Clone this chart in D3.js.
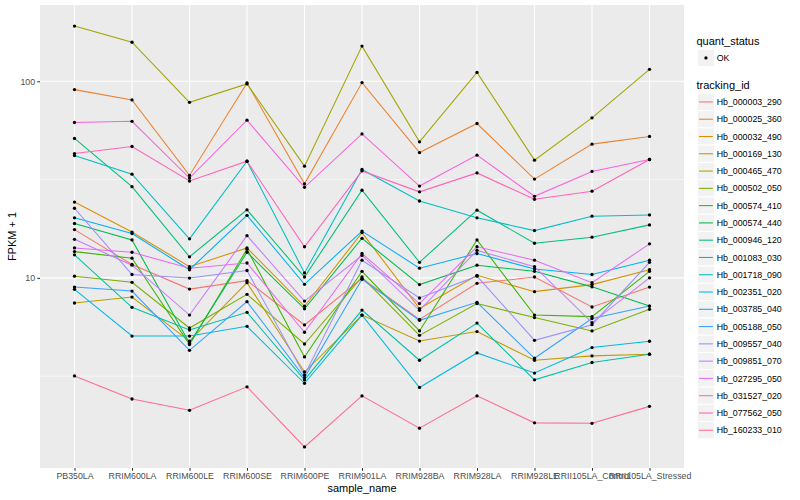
<!DOCTYPE html>
<html><head><meta charset="utf-8">
<script src="https://cdn.jsdelivr.net/npm/d3@7"></script>
<style>body{margin:0;background:#fff} text{font-family:"Liberation Sans", Arial, Helvetica, sans-serif}</style>
</head><body><svg id="c" width="800" height="500"></svg>
<script>
const samples = ["PB350LA","RRIM600LA","RRIM600LE","RRIM600SE","RRIM600PE","RRIM901LA","RRIM928BA","RRIM928LA","RRIM928LE","RRII105LA_Control","RRII105LA_Stressed"];
const trackingIds = ["Hb_000003_290","Hb_000025_360","Hb_000032_490","Hb_000169_130","Hb_000465_470","Hb_000502_050","Hb_000574_410","Hb_000574_440","Hb_000946_120","Hb_001083_030","Hb_001718_090","Hb_002351_020","Hb_003785_040","Hb_005188_050","Hb_009557_040","Hb_009851_070","Hb_027295_050","Hb_031527_020","Hb_077562_050","Hb_160233_010"];
const seriesColors = ["#F8766D","#EA8331","#D89000","#C09B00","#A3A500","#7CAE00","#39B600","#00BB4E","#00BF7D","#00C1A3","#00BFC4","#00BAE0","#00B0F6","#35A2FF","#9590FF","#C77CFF","#E76BF3","#FA62DB","#FF62BC","#FF6C91"];
const yTicks = [10, 100];
const quantStatus = ["OK"];

const Hb_000003_290 = [17.6, 11.7, 8.77, 9.68, 5.76, 9.94, 6.15, 9.38, 10.1, 7.11, 8.98];
const Hb_000025_360 = [90.7, 80.4, 33.2, 98.1, 30.1, 98.5, 43.4, 61.0, 31.8, 47.9, 52.4];
const Hb_000032_490 = [24.3, 17.1, 11.4, 14.2, 7.17, 17.0, 6.98, 10.3, 8.51, 9.24, 11.0];
const Hb_000169_130 = [7.45, 7.99, 4.77, 9.45, 3.32, 6.47, 4.77, 5.33, 3.81, 4.01, 4.09];
const Hb_000465_470 = [191, 158, 78.2, 97.0, 37.0, 151, 49.2, 111, 39.7, 65.2, 115];
const Hb_000502_050 = [10.2, 9.49, 5.56, 8.25, 4.61, 10.1, 5.10, 7.40, 6.28, 5.37, 6.92];
const Hb_000574_410 = [13.6, 12.6, 4.58, 14.0, 3.96, 10.8, 5.37, 15.6, 6.47, 6.35, 10.8];
const Hb_000574_440 = [18.9, 15.6, 4.65, 13.5, 6.96, 15.9, 9.24, 11.6, 10.8, 9.00, 7.19];
const Hb_000946_120 = [51.2, 29.1, 12.8, 22.2, 10.1, 27.9, 12.0, 22.1, 15.0, 16.1, 18.6];
const Hb_001083_030 = [13.1, 7.08, 5.43, 6.68, 3.03, 6.86, 3.81, 5.89, 3.03, 3.71, 4.09];
const Hb_001718_090 = [41.9, 33.7, 15.8, 39.2, 10.6, 35.6, 24.6, 20.2, 17.4, 20.6, 20.9];
const Hb_002351_020 = [8.74, 5.06, 5.06, 5.67, 2.91, 6.47, 2.77, 4.15, 3.28, 4.42, 4.76];
const Hb_003785_040 = [20.2, 16.8, 11.0, 20.8, 9.27, 17.3, 11.2, 13.3, 11.1, 10.4, 12.3];
const Hb_005188_050 = [8.98, 8.57, 4.28, 7.57, 3.11, 9.83, 6.08, 7.51, 3.90, 6.21, 7.19];
const Hb_009557_040 = [22.6, 10.4, 9.98, 10.9, 3.20, 12.3, 7.90, 10.2, 4.81, 5.78, 12.0];
const Hb_009851_070 = [15.7, 11.6, 6.47, 16.4, 7.62, 13.0, 6.84, 13.8, 11.4, 5.92, 10.0];
const Hb_027295_050 = [14.2, 13.5, 11.2, 11.9, 5.29, 13.3, 7.40, 14.4, 12.3, 9.45, 14.9];
const Hb_031527_020 = [61.7, 62.6, 32.2, 63.4, 28.9, 54.0, 29.3, 42.1, 26.0, 34.8, 40.0];
const Hb_077562_050 = [42.9, 46.6, 31.1, 39.2, 14.4, 35.0, 27.4, 34.2, 25.1, 27.6, 40.0];
const Hb_160233_010 = [3.17, 2.42, 2.12, 2.79, 1.38, 2.51, 1.72, 2.51, 1.83, 1.82, 2.22];

const seriesValues = [Hb_000003_290, Hb_000025_360, Hb_000032_490, Hb_000169_130, Hb_000465_470, Hb_000502_050, Hb_000574_410, Hb_000574_440, Hb_000946_120, Hb_001083_030, Hb_001718_090, Hb_002351_020, Hb_003785_040, Hb_005188_050, Hb_009557_040, Hb_009851_070, Hb_027295_050, Hb_031527_020, Hb_077562_050, Hb_160233_010];

const series = trackingIds.map((id, i) => ({id, color: seriesColors[i], values: seriesValues[i].map((v, j) => ({s: samples[j], v}))}));

const svg = d3.select("#c");
const P = {l: 40, r: 684, t: 5, b: 468};

const x = d3.scalePoint().domain(samples).range([P.l, P.r]).padding(0.6);
const allV = seriesValues.flat();
const lmin = Math.log10(d3.min(allV)), lmax = Math.log10(d3.max(allV));
const ex = (lmax - lmin) * 0.05;
const y = d3.scaleLog().domain([Math.pow(10, lmin - ex), Math.pow(10, lmax + ex)]).range([P.b, P.t]);

// panel
svg.append("rect").attr("x", P.l).attr("y", P.t).attr("width", P.r - P.l).attr("height", P.b - P.t).attr("fill", "#EBEBEB");
const grid = svg.append("g");
const minor = [Math.pow(10, 0.5), Math.pow(10, 1.5)];
minor.forEach(m => grid.append("line").attr("x1", P.l).attr("x2", P.r).attr("y1", y(m)).attr("y2", y(m)).attr("stroke", "#fff").attr("stroke-width", 0.53));
yTicks.forEach(t => grid.append("line").attr("x1", P.l).attr("x2", P.r).attr("y1", y(t)).attr("y2", y(t)).attr("stroke", "#fff").attr("stroke-width", 1.07));
samples.forEach(s => grid.append("line").attr("x1", x(s)).attr("x2", x(s)).attr("y1", P.t).attr("y2", P.b).attr("stroke", "#fff").attr("stroke-width", 1.07));

// lines
const line = d3.line().x(d => x(d.s)).y(d => y(d.v));
svg.append("g").selectAll("path").data(series).join("path")
  .attr("d", d => line(d.values)).attr("fill", "none").attr("stroke", d => d.color).attr("stroke-width", 1.07);
// points
svg.append("g").selectAll("g").data(series).join("g").selectAll("circle").data(d => d.values).join("circle")
  .attr("cx", d => x(d.s)).attr("cy", d => y(d.v)).attr("r", 1.65).attr("fill", "#000");

// axes
const yAxis = d3.axisLeft(y).tickValues(yTicks).tickFormat(d3.format("d")).tickSize(2.75).tickPadding(2.2);
const gy = svg.append("g").attr("transform", `translate(${P.l},0)`).call(yAxis);
const xAxis = d3.axisBottom(x).tickSize(2.75).tickPadding(2.2);
const gx = svg.append("g").attr("transform", `translate(0,${P.b})`).call(xAxis);
[gx, gy].forEach(g => {
  g.select(".domain").remove();
  g.selectAll(".tick line").attr("stroke", "#333").attr("stroke-width", 1.07);
  g.selectAll(".tick text").attr("fill", "#4D4D4D").style("font-size", "8.8px").style("font-family", '"Liberation Sans", Arial, sans-serif');
});

svg.append("text").attr("x", (P.l + P.r) / 2).attr("y", 492).attr("text-anchor", "middle").style("font-size", "11px").text("sample_name");
svg.append("text").attr("transform", `translate(16,${(P.t + P.b) / 2}) rotate(-90)`).attr("text-anchor", "middle").style("font-size", "11px").text("FPKM + 1");

// legends
const K = 17.28, LX = 697.3;
const leg = svg.append("g");
leg.append("text").attr("x", 696.5).attr("y", 44.5).style("font-size", "11px").text("quant_status");
quantStatus.forEach((q, i) => {
  const yy = 49.3 + i * K;
  leg.append("rect").attr("x", LX).attr("y", yy).attr("width", K).attr("height", K).attr("fill", "#F2F2F2").attr("stroke", "#fff").attr("stroke-width", 1);
  leg.append("circle").attr("cx", LX + K / 2).attr("cy", yy + K / 2).attr("r", 1.65).attr("fill", "#000");
  leg.append("text").attr("x", 716.7).attr("y", yy + K / 2 + 3.1).style("font-size", "8.8px").text(q);
});
leg.append("text").attr("x", 696.5).attr("y", 89).style("font-size", "11px").text("tracking_id");
series.forEach((s, i) => {
  const yy = 93.3 + i * K;
  leg.append("rect").attr("x", LX).attr("y", yy).attr("width", K).attr("height", K).attr("fill", "#F2F2F2").attr("stroke", "#fff").attr("stroke-width", 1);
  leg.append("line").attr("x1", LX + 1.7).attr("x2", LX + K - 1.7).attr("y1", yy + K / 2).attr("y2", yy + K / 2).attr("stroke", s.color).attr("stroke-width", 1.07);
  leg.append("text").attr("x", 716.7).attr("y", yy + K / 2 + 3.1).style("font-size", "8.8px").text(s.id);
});
</script></body></html>
